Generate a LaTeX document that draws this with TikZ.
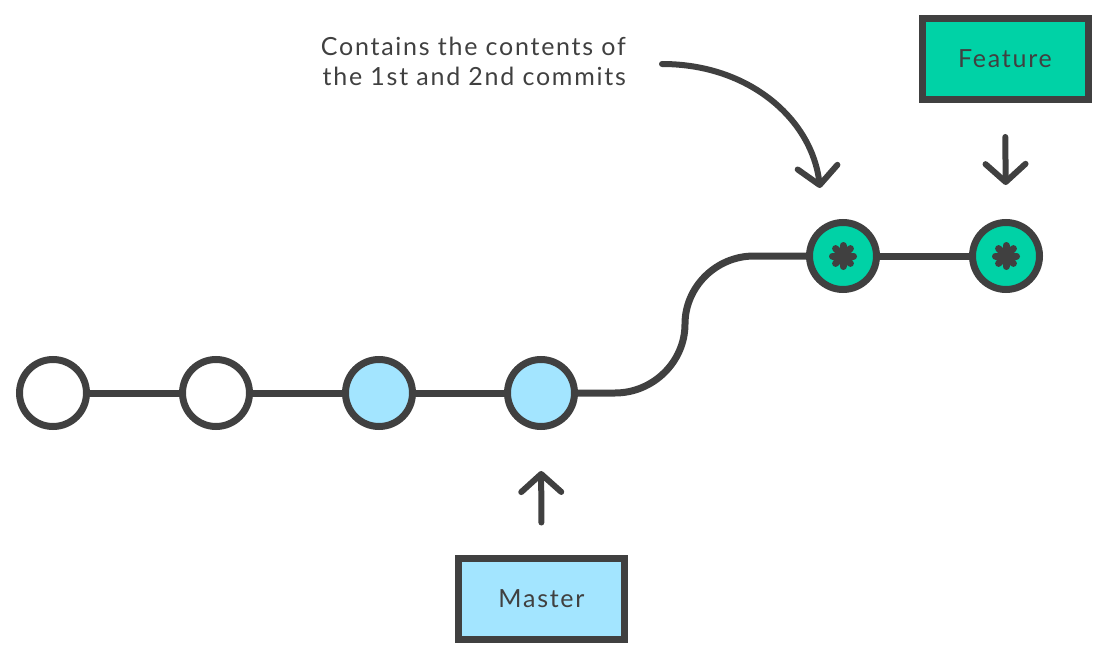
\documentclass[tikz,border=0pt]{standalone}
\usepackage{fontspec}
\setmainfont{Lato}[LetterSpace=7]
\usetikzlibrary{arrows.meta,backgrounds,calc}
\definecolor{dk}{HTML}{404040}
\definecolor{lblue}{HTML}{A3E5FF}
\definecolor{grn}{HTML}{00D2A6}
\tikzset{
  edge/.style={draw=dk,line width=7pt},
  commit/.style={circle,draw=dk,line width=7pt,minimum size=67pt,inner sep=0pt},
  branch/.style={draw=dk,line width=7pt,minimum width=166pt,minimum height=81pt,inner sep=0pt,font=\fontsize{25}{30}\selectfont,text=dk},
  pointer/.style={draw=dk,line width=6pt,line cap=round,-{Straight Barb[length=18pt,width=40pt,line cap=round,line join=round]}},
  star/.style={draw=dk,line width=7pt,line cap=round}
}
\begin{document}
\begin{tikzpicture}[x=1pt,y=-1pt]
\useasboundingbox (0,0) rectangle (1108,666);
\node[commit,fill=white] (c1) at (53,393) {};
\node[commit,fill=white] (c2) at (216,393) {};
\node[commit,fill=lblue] (c3) at (379,393) {};
\node[commit,fill=lblue] (c4) at (541,393) {};
\node[commit,fill=grn] (g1) at (843,256) {};
\node[commit,fill=grn] (g2) at (1006,256) {};
\foreach \n in {g1,g2}{
  \foreach \a in {0,45,90,135}{
    \draw[star] ($(\n)+(\a:10.5)$) -- ($(\n)+(\a+180:10.5)$);
  }
}
\coordinate (b1) at (615,393);
\coordinate (b2) at (685,324);
\coordinate (b3) at (754,256);
\begin{scope}[on background layer]
\draw[edge] (c1) -- (c2);
\draw[edge] (c2) -- (c3);
\draw[edge] (c3) -- (c4);
\draw[edge] (c4) -- (b1) .. controls (653,393) and (685,362) .. (b2) .. controls (685,287) and (716,256) .. (b3) -- (g1);
\draw[edge] (g1) -- (g2);
\end{scope}
\node[branch,fill=lblue] (master) at (541.5,598.5) {Master};
\node[branch,fill=grn] (feature) at (1005,59) {Feature};
\draw[pointer,shorten <=32pt,shorten >=41pt] (master.north) -- (c4.south);
\draw[pointer,shorten <=34pt,shorten >=34pt] (feature.south) -- (g2.north);
\node[font=\fontsize{25}{30}\selectfont,text=dk,align=right,anchor=east,inner sep=0pt] (note) at (626,61) {Contains the contents of\\the 1st and 2nd commits};
\coordinate (cstart) at (662,64);
\draw[pointer] (cstart) .. controls (750,64) and (812,120) .. (820,188);
\end{tikzpicture}
\end{document}
